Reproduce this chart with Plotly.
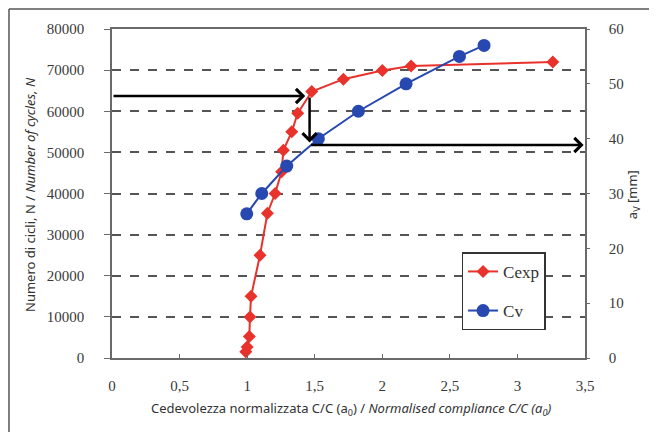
import plotly.graph_objects as go

# Cexp: normalised compliance vs number of cycles (left axis)
cexp_x = [0.99, 1.0, 1.016, 1.021, 1.029, 1.095, 1.15, 1.207, 1.255, 1.268, 1.33, 1.374, 1.478, 1.712, 2.0, 2.213, 3.262]
cexp_n = [1500, 2700, 5200, 10000, 15000, 25000, 35200, 40000, 45300, 50500, 55000, 59500, 64800, 67800, 69900, 71000, 72000]

# Cv: normalised compliance vs crack length a_v (right axis)
cv_x = [0.997, 1.108, 1.293, 1.527, 1.823, 2.176, 2.571, 2.753]
cv_a = [26.3, 30.0, 35.0, 40.0, 45.0, 50.0, 55.0, 57.0]

x_ticks = [0, 0.5, 1, 1.5, 2, 2.5, 3, 3.5]
x_ticklabels = ["0", "0,5", "1", "1,5", "2", "2,5", "3", "3,5"]
y_ticks = [0, 10000, 20000, 30000, 40000, 50000, 60000, 70000, 80000]
y2_ticks = [0, 10, 20, 30, 40, 50, 60]

# reading arrows (data coords)
arrow_n1 = 63700
arrow_x1 = 1.43
arrow_xv = 1.462
arrow_n2 = 52400
arrow_n3 = 51800
arrow_x3 = 3.49

RED = "#e8322b"
BLUE = "#2748b0"
serif = "Liberation Serif"
sans = "Noto Sans"

fig = go.Figure()
fig.add_trace(go.Scatter(
    x=cexp_x, y=cexp_n, name="Cexp", mode="lines+markers",
    line=dict(color=RED, width=2),
    marker=dict(symbol="diamond", size=10, color=RED),
    legendgroup="a"))
fig.add_trace(go.Scatter(
    x=cv_x, y=cv_a, name="Cv", mode="lines+markers", yaxis="y2",
    line=dict(color=BLUE, width=2),
    marker=dict(symbol="circle", size=13, color=BLUE),
    legendgroup="b"))

axis_line = "#6a6a6a"
tickfont = dict(family=serif, size=15, color="#3a3a3a")

fig.update_layout(
    width=649, height=424,
    margin=dict(l=104, r=72, t=21, b=74),
    paper_bgcolor="white", plot_bgcolor="white",
    showlegend=True,
    xaxis=dict(range=[0, 3.5], tickvals=x_ticks, ticktext=x_ticklabels,
               showgrid=False, zeroline=False, showline=True, linecolor=axis_line,
               linewidth=1.5, mirror=True, ticks="inside", ticklen=4,
               tickcolor=axis_line, tickfont=tickfont, ticklabelstandoff=13),
    yaxis=dict(range=[0, 80000], tickvals=y_ticks, tickformat="d", showgrid=True,
               gridcolor="#555", griddash="dash", gridwidth=1.5, zeroline=False,
               showline=True, linecolor=axis_line, linewidth=1.5,
               ticks="outside", ticklen=6, tickcolor=axis_line,
               tickfont=tickfont, ticklabelstandoff=17),
    yaxis2=dict(range=[0, 60], tickvals=y2_ticks, overlaying="y", side="right",
                showgrid=False, zeroline=False, showline=True, linecolor=axis_line,
                linewidth=1.5, ticks="outside", ticklen=3, tickcolor=axis_line,
                tickfont=tickfont, ticklabelstandoff=16),
    legend=dict(x=0.739, y=0.321, xanchor="left", yanchor="top",
                bgcolor="white", bordercolor="#333", borderwidth=1.5,
                font=dict(family=serif, size=17, color="#333"),
                traceorder="grouped", tracegroupgap=14),
)

# axis titles
title_font = dict(family=sans, size=13, color="#333")
fig.add_annotation(xref="paper", yref="paper", x=-0.1734, y=0.4985,
                   xanchor="center", yanchor="middle",
                   text="Numero di cicli, N / <i>Number of cycles, N</i>",
                   textangle=-90, showarrow=False, font=title_font)
fig.add_annotation(xref="paper", yref="paper", x=0.505, y=-0.155,
                   xanchor="center", yanchor="middle",
                   text="Cedevolezza normalizzata C/C (a<sub>0</sub>) / <i>Normalised compliance C/C (a<sub>0</sub>)</i>",
                   showarrow=False, font=title_font)
fig.add_annotation(xref="paper", yref="paper", x=1.1015, y=0.495,
                   xanchor="center", yanchor="middle",
                   text="a<sub>V</sub> [mm]", textangle=-90, showarrow=False,
                   font=title_font)

# arrows
arrow_style = dict(showarrow=True, arrowhead=4, arrowsize=1.1, arrowwidth=2.5,
                   arrowcolor="black", xref="x", yref="y", axref="x", ayref="y",
                   text="", standoff=0, startstandoff=0)
fig.add_annotation(x=arrow_x1, y=arrow_n1, ax=0, ay=arrow_n1, **arrow_style)
fig.add_annotation(x=arrow_xv, y=arrow_n2, ax=arrow_xv, ay=arrow_n1, **arrow_style)
fig.add_annotation(x=arrow_x3, y=arrow_n3, ax=arrow_xv, ay=arrow_n3, **arrow_style)

# outer frame (left and top edges)
fig.add_shape(type="line", xref="paper", yref="paper",
              x0=-0.2178, x1=-0.2178, y0=1.0608, y1=-0.23,
              line=dict(color="#555", width=1.5))
fig.add_shape(type="line", xref="paper", yref="paper",
              x0=-0.2178, x1=1.16, y0=1.0608, y1=1.0608,
              line=dict(color="#555", width=1.5))

fig.write_html("out.html")
